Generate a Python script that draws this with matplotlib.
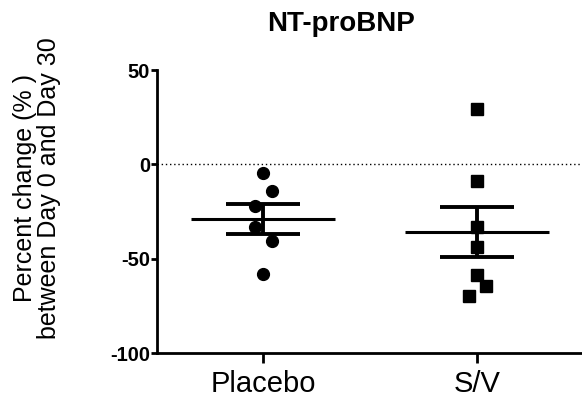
import numpy as np
import matplotlib
matplotlib.use("Agg")
import matplotlib.pyplot as plt

plt.rcParams['font.family'] = ['Liberation Sans', 'DejaVu Sans']

# values (% change, Day 0 -> Day 30)
groups = ["Placebo", "S/V"]
placebo = [-4.8, -14.3, -22.3, -33.4, -40.8, -58.3]
sv = [29.1, -9.0, -33.4, -44.0, -58.8, -64.7, -70.0]
# small horizontal scatter so points don't overlap
placebo_jit = [0, 0.042, -0.037, -0.037, 0.042, 0]
sv_jit = [0, 0, 0, 0, 0, 0.042, -0.037]
yticks = [50, 0, -50, -100]

fig = plt.figure(figsize=(5.82, 4.04), dpi=100)
ax = fig.add_axes([0.2698, 0.1262, 0.7302, 0.7005])

data = [placebo, sv]
jits = [placebo_jit, sv_jit]
markers = ["o", "s"]

ax.axhline(0, color="black", lw=1, ls=(0, (1, 2)), zorder=1)

for i, (vals, jit, m) in enumerate(zip(data, jits, markers)):
    vals = np.array(vals)
    x = i + np.array(jit)
    ax.plot(x, vals, m, color="black", ms=8.5, zorder=3)
    mean = vals.mean()
    sem = vals.std(ddof=1) / np.sqrt(len(vals))
    ax.hlines(mean, i - 0.338, i + 0.338, color="black", lw=2.2, zorder=4)
    ax.hlines([mean - sem, mean + sem], i - 0.173, i + 0.173, color="black", lw=2.8, zorder=4)
    ax.vlines(i, mean - sem, mean + sem, color="black", lw=2.8, zorder=4)

ax.set_xlim(-0.495, 1.491)
ax.set_ylim(-100, 50)
ax.set_yticks(yticks)
ax.set_yticklabels([str(t) for t in yticks], fontweight="bold", fontsize=14.5)
ax.set_xticks([0, 1])
ax.set_xticklabels(groups, fontsize=21)

for s in ["top", "right"]:
    ax.spines[s].set_visible(False)
for s in ["left", "bottom"]:
    ax.spines[s].set_linewidth(2)
ax.tick_params(axis="y", length=4, width=2, pad=1)
ax.tick_params(axis="x", length=7, width=2, pad=5)

fig.text(37 / 582, 1 - 188 / 404, "Percent change (% )\nbetween Day 0 and Day 30",
         rotation=90, ha="center", va="center", fontsize=18, linespacing=1.05)

fig.text(341 / 582, 1 - 24 / 404, "NT-proBNP", ha="center", va="center",
         fontsize=20, fontweight="bold")

fig.savefig("out.png", dpi=100)
